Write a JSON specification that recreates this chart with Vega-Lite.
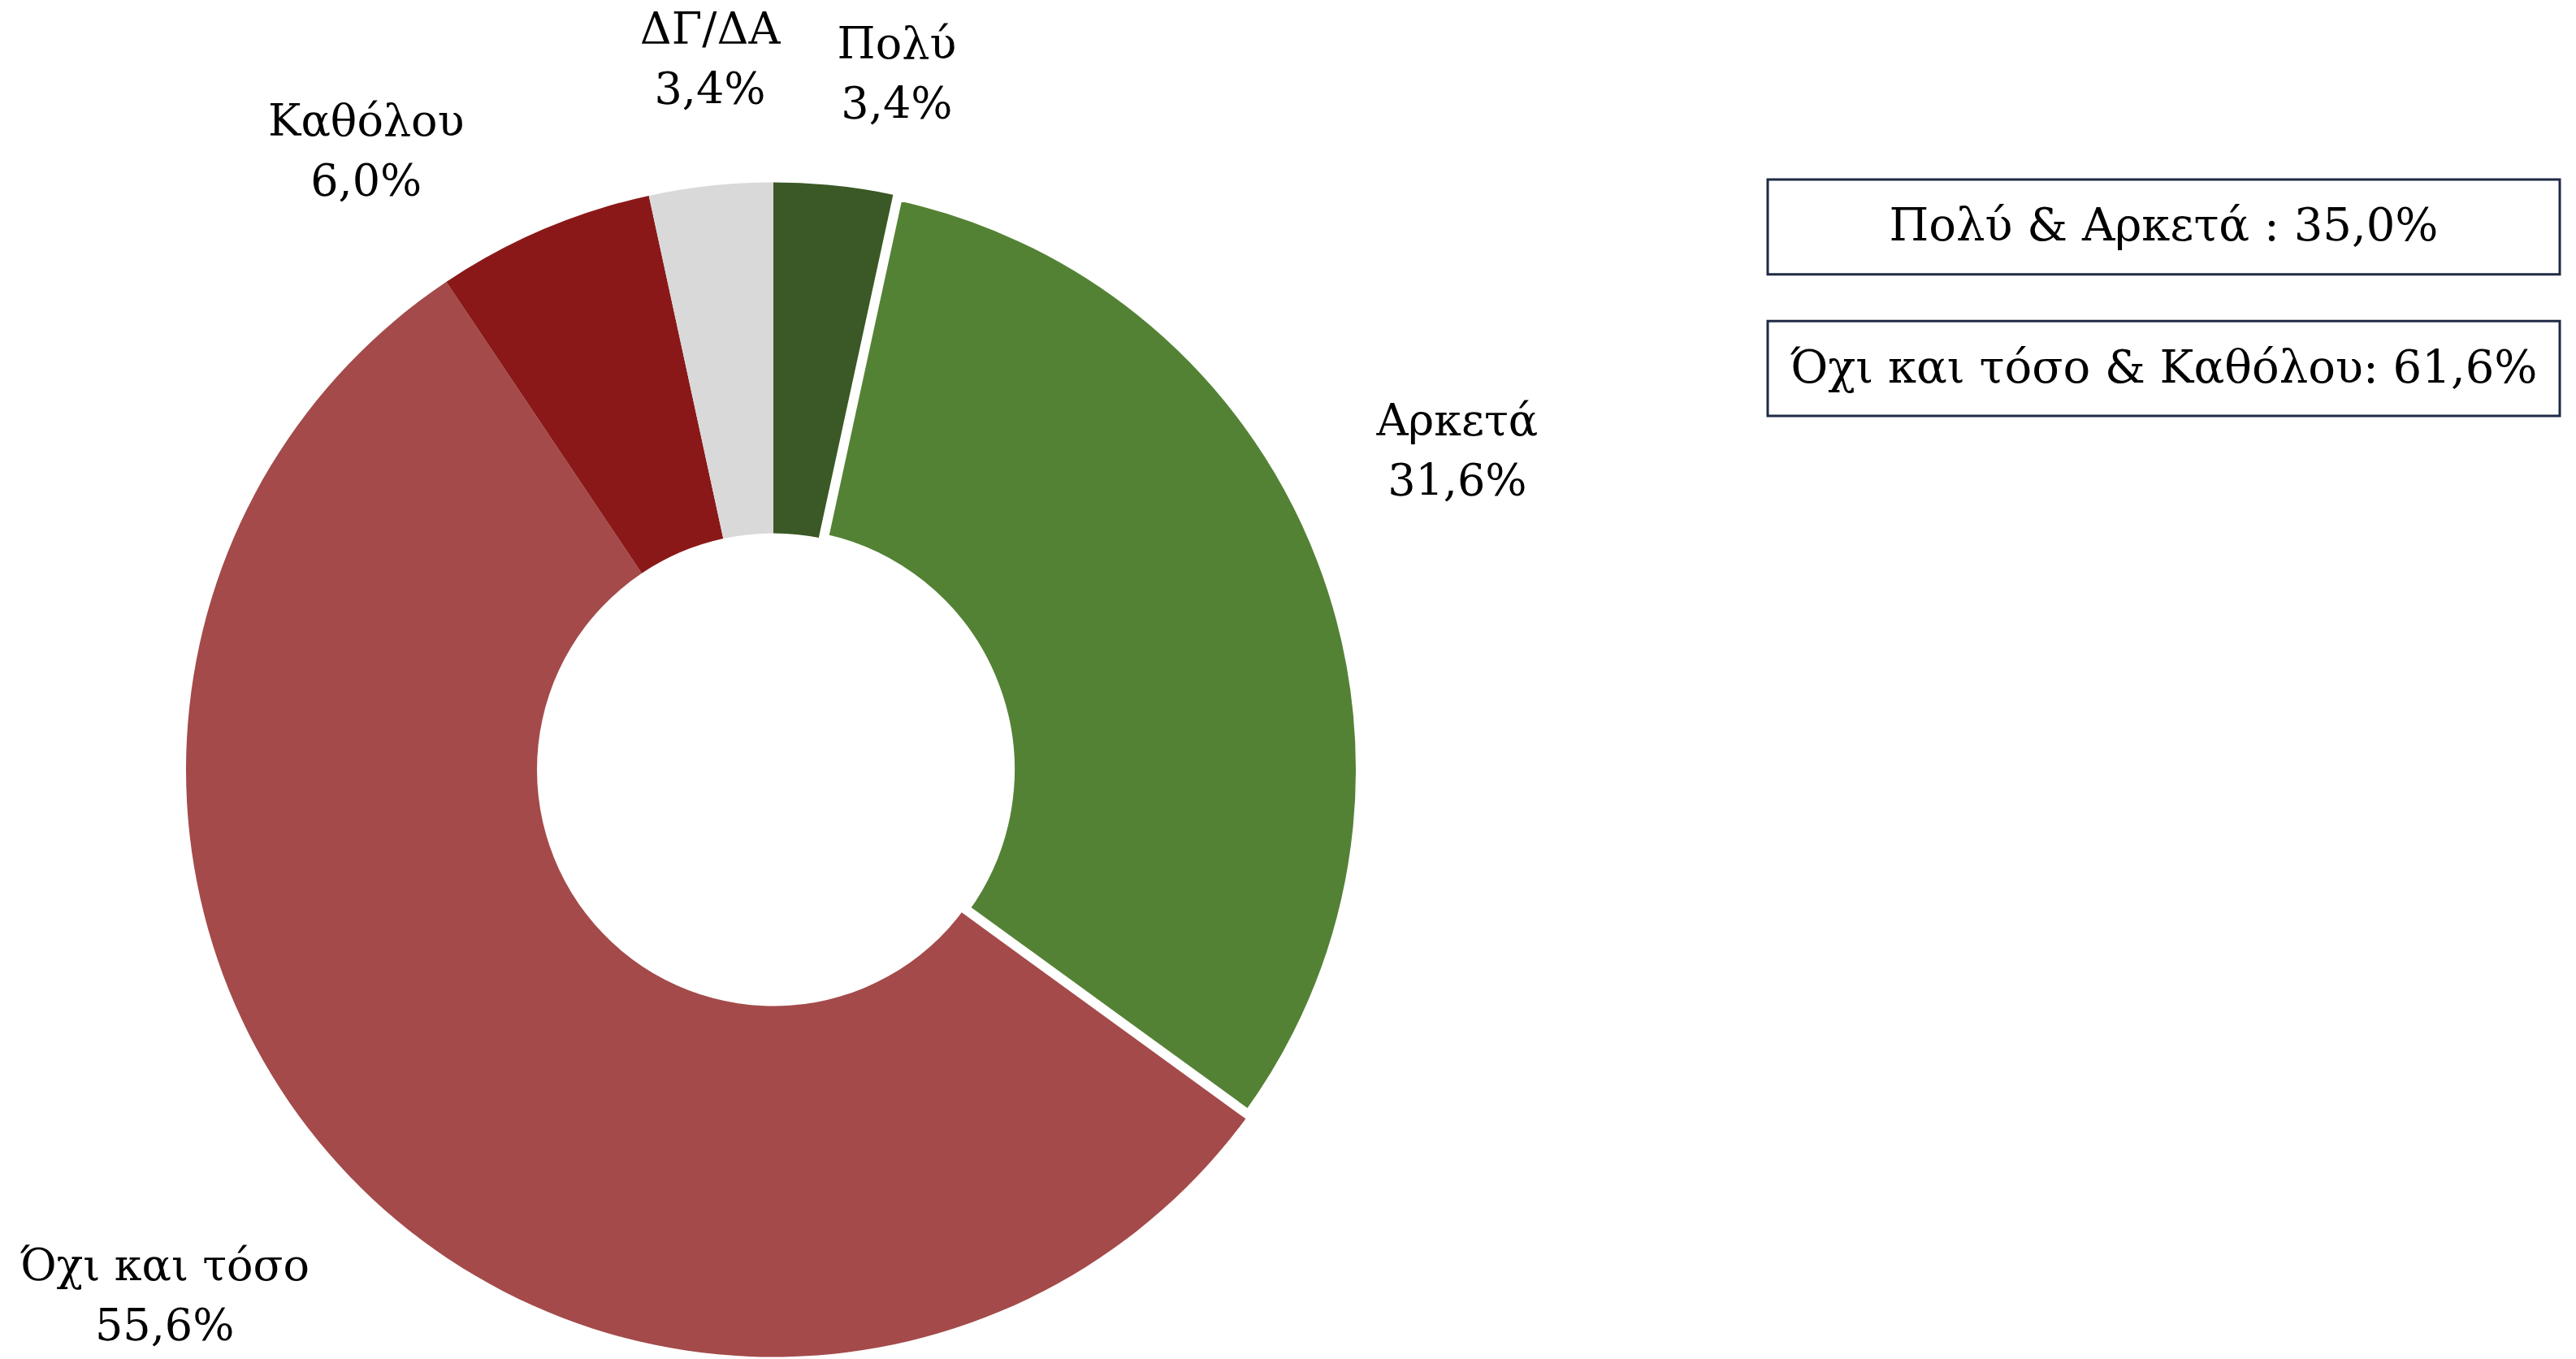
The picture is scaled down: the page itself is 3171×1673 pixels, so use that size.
{
  "$schema": "https://vega.github.io/schema/vega-lite/v6.json",
  "background": "white",
  "padding": {"top": 10, "left": 0, "right": 0, "bottom": 0},
  "spacing": 270,
  "config": {"view": {"stroke": null}, "font": "DejaVu Serif"},
  "hconcat": [
    {
      "width": 1904,
      "height": 1453,
      "data": {"values": [
        {"cat": "Πολύ", "value": 3.4, "idx": 1, "label": "Πολύ\n3,4%"},
        {"cat": "Όχι και τόσο", "value": 55.6, "idx": 3, "label": "Όχι και τόσο\n55,6%"},
        {"cat": "Καθόλου", "value": 6.0, "idx": 4, "label": "Καθόλου\n6,0%"},
        {"cat": "ΔΓ/ΔΑ", "value": 3.4, "idx": 5, "label": "ΔΓ/ΔΑ\n3,4%"},
        {"cat": "Αρκετά", "value": 31.6, "idx": 2, "label": "Αρκετά\n31,6%"}
      ]},
      "encoding": {
        "theta": {"field": "value", "type": "quantitative", "stack": true},
        "order": {"field": "idx", "type": "quantitative"}
      },
      "layer": [
        {
          "mark": {"type": "arc", "innerRadius": 291, "outerRadius": 723, "stroke": "white"},
          "encoding": {
            "color": {
              "field": "cat", "type": "nominal", "legend": null,
              "scale": {
                "domain": ["Πολύ", "Αρκετά", "Όχι και τόσο", "Καθόλου", "ΔΓ/ΔΑ"],
                "range": ["#3A5926", "#548235", "#A44A4A", "#8B1818", "#D9D9D9"]
              }
            },
            "strokeWidth": {"condition": {"test": "datum.cat === 'Αρκετά'", "value": 12}, "value": 0}
          }
        },
        {
          "mark": {
            "type": "text",
            "radius": 900,
            "fontSize": 54,
            "lineHeight": 74,
            "lineBreak": "\n",
            "align": "center",
            "baseline": "middle",
            "color": "black",
            "dx": {"expr": "datum.cat === 'Πολύ' ? 56 : datum.cat === 'Αρκετά' ? 1 : datum.cat === 'Όχι και τόσο' ? -101 : datum.cat === 'Καθόλου' ? -149 : 18"},
            "dy": {"expr": "datum.cat === 'Πολύ' ? 3 : datum.cat === 'Αρκετά' ? -107 : datum.cat === 'Όχι και τόσο' ? -12 : datum.cat === 'Καθόλου' ? 32 : -15"}
          },
          "encoding": {
            "text": {"field": "label", "type": "nominal"}
          }
        }
      ]
    },
    {
      "width": 975,
      "height": 291,
      "data": {"values": [
        {"summary": "Πολύ & Αρκετά : 35,0%"},
        {"summary": "Όχι και τόσο & Καθόλου: 61,6%"}
      ]},
      "encoding": {
        "y": {
          "field": "summary", "type": "nominal", "sort": null, "axis": null,
          "scale": {"paddingInner": 0.33, "paddingOuter": 0}
        }
      },
      "layer": [
        {
          "mark": {"type": "rect", "fill": "white", "stroke": "#1F2A44", "strokeWidth": 3}
        },
        {
          "mark": {"type": "text", "fontSize": 56, "color": "black", "align": "center", "baseline": "middle"},
          "encoding": {
            "y": {
              "field": "summary", "type": "nominal", "sort": null, "axis": null, "bandPosition": 0.5
            },
            "text": {"field": "summary", "type": "nominal"}
          }
        }
      ]
    }
  ]
}
